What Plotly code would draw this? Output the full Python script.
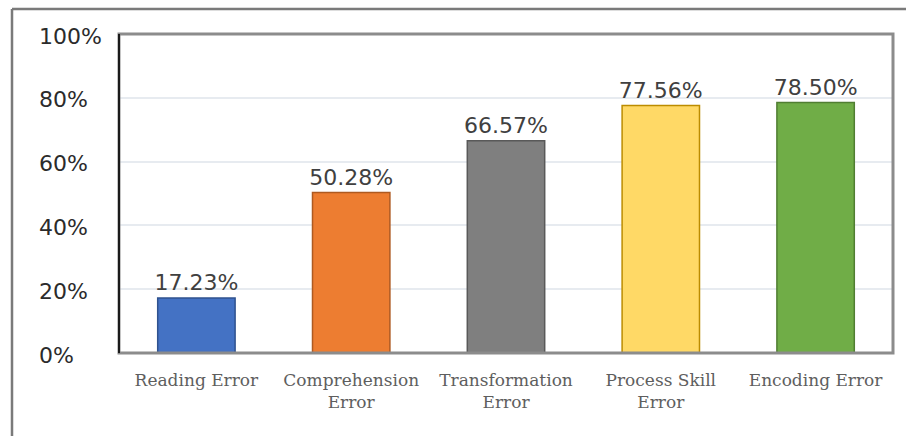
import plotly.graph_objects as go

categories = ["Reading Error", "Comprehension<br>Error", "Transformation<br>Error",
              "Process Skill<br>Error", "Encoding Error"]
values = [17.23, 50.28, 66.57, 77.56, 78.50]
fill_colors = ["#4472C4", "#ED7D31", "#7F7F7F", "#FFD966", "#70AD47"]
edge_colors = ["#2F528F", "#AE5A21", "#595959", "#BC8C00", "#507E32"]
y_ticks = [0, 20, 40, 60, 80, 100]
y_tick_labels = ["0%", "20%", "40%", "60%", "80%", "100%"]

W, H = 906, 436
ML, MR, MT, MB = 119, 13, 34, 83
PW, PH = W - ML - MR, H - MT - MB


def px_x(px):
    return (px - ML) / PW


def px_y(py):
    return (H - MB - py) / PH


fig = go.Figure(go.Bar(
    x=categories,
    y=values,
    width=0.5,
    marker=dict(color=fill_colors, line=dict(color=edge_colors, width=1.5)),
    text=[f"{v:.2f}%" for v in values],
    textposition="outside",
    constraintext="none",
    cliponaxis=False,
    textfont=dict(family="DejaVu Sans", size=22, color="#404040"),
))

# left-aligned percentage labels for the value axis
for v, lab in zip(y_ticks, y_tick_labels):
    fig.add_annotation(
        xref="paper", yref="y", x=px_x(37), y=v, yshift=-2,
        text=lab, showarrow=False, xanchor="left", yanchor="middle",
        font=dict(family="DejaVu Sans", size=22, color="#2B2B2B"),
    )

fig.update_layout(
    width=W, height=H,
    margin=dict(l=ML, r=MR, t=MT, b=MB),
    paper_bgcolor="white",
    plot_bgcolor="white",
    showlegend=False,
    bargap=0.5,
    xaxis=dict(
        tickfont=dict(family="DejaVu Serif", size=17, color="#5E5E5E"),
        showgrid=False,
        ticks="",
        ticklabelstandoff=15,
    ),
    yaxis=dict(
        range=[0, 100],
        tickvals=y_ticks,
        showticklabels=False,
        showgrid=True,
        gridcolor="#E7EBF0",
        gridwidth=1.5,
        zeroline=False,
        ticks="",
    ),
    shapes=[
        # plot-area frame
        dict(type="rect", xref="paper", yref="paper", x0=0, y0=0, x1=1, y1=1,
             line=dict(color="#8C8C8C", width=3), layer="above"),
        # left axis line
        dict(type="line", xref="paper", yref="paper", x0=0, y0=0, x1=0, y1=1,
             line=dict(color="#1A1A1A", width=2), layer="above"),
        # outer figure frame (top and left edges)
        dict(type="line", xref="paper", yref="paper",
             x0=px_x(12), y0=px_y(9), x1=px_x(910), y1=px_y(9),
             line=dict(color="#7A7A7A", width=2.5)),
        dict(type="line", xref="paper", yref="paper",
             x0=px_x(12), y0=px_y(9), x1=px_x(12), y1=px_y(440),
             line=dict(color="#7A7A7A", width=2.5)),
    ],
)

fig.write_html("out.html")
